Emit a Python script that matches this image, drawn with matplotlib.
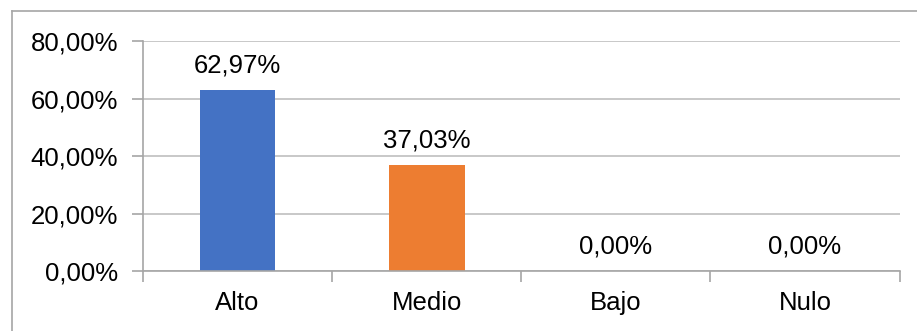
import matplotlib.pyplot as plt
from matplotlib.lines import Line2D

categorias = ['Alto', 'Medio', 'Bajo', 'Nulo']
porcentajes = [62.97, 37.03, 0.0, 0.0]
colores = ['#4472C4', '#ED7D31', '#A5A5A5', '#FFC000']
y_ticks = [0, 20, 40, 60, 80]

plt.rcParams['font.family'] = ['Liberation Sans', 'DejaVu Sans']
gris = '#A6A6A6'

fig = plt.figure(figsize=(9.17, 3.31), dpi=100)
ax = fig.add_axes([0.156, 0.181, 0.825, 0.695])

x = range(len(categorias))
barras = ax.bar(x, porcentajes, width=0.4, color=colores, zorder=3)

etiquetas = [f'{v:.2f}%'.replace('.', ',') for v in porcentajes]
ax.bar_label(barras, labels=etiquetas, padding=9, fontsize=18.5, color='black')

ax.set_xlim(-0.5, len(categorias) - 0.5)
ax.set_ylim(0, 80)
ax.set_yticks(y_ticks)
ax.set_yticklabels([f'{v:.2f}%'.replace('.', ',') for v in y_ticks], fontsize=18.5)
ax.set_xticks(list(x))
ax.set_xticklabels(categorias, fontsize=18.5)
ax.set_xticks([i - 0.5 for i in range(len(categorias) + 1)], minor=True)

ax.tick_params(axis='x', which='major', length=0, pad=14)
ax.tick_params(axis='x', which='minor', length=8, color=gris, width=1.2)
ax.tick_params(axis='y', length=8, color=gris, width=1.2, pad=10)

ax.grid(axis='y', color='#BFBFBF', linewidth=1.2, zorder=0)
for lado in ['top', 'right']:
    ax.spines[lado].set_visible(False)
for lado in ['left', 'bottom']:
    ax.spines[lado].set_color(gris)
    ax.spines[lado].set_linewidth(1.2)
    ax.spines[lado].set_zorder(4)

# marco del grafico (solo arriba e izquierda visibles)
fig.add_artist(Line2D([11.5 / 917, 11.5 / 917], [0, 1 - 10.5 / 331],
                      transform=fig.transFigure, color=gris, linewidth=1.2))
fig.add_artist(Line2D([11.5 / 917, 1], [1 - 10.5 / 331, 1 - 10.5 / 331],
                      transform=fig.transFigure, color=gris, linewidth=1.2))

fig.savefig('out.png', dpi=100)
